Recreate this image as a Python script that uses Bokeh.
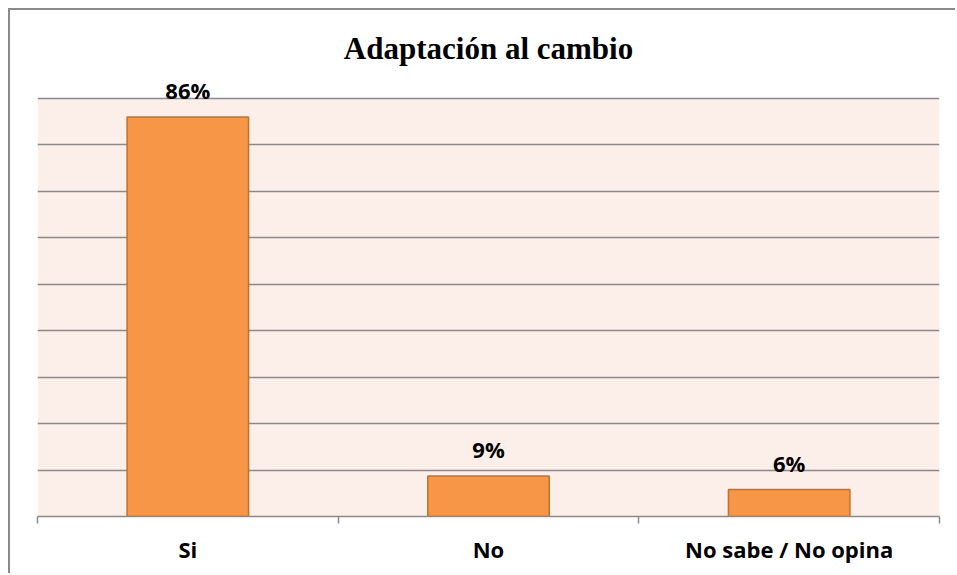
from bokeh.plotting import figure
from bokeh.models import ColumnDataSource, FixedTicker, Range1d, LabelSet
from bokeh.core.properties import value
from bokeh.embed import file_html
from bokeh.resources import INLINE

title = "Adaptación al cambio"
categories = ["Si", "No", "No sabe / No opina"]
values = [0.86, 0.087, 0.058]
labels = ["86%", "9%", "6%"]
grid_ticks = [0.0, 0.1, 0.2, 0.3, 0.4, 0.5, 0.6, 0.7, 0.8, 0.9]

n = len(categories)
xs = [i + 0.5 for i in range(n)]
src = ColumnDataSource(dict(x=xs, top=values, lab=labels))
ymax = grid_ticks[-1]

p = figure(width=947, height=565, output_backend="svg", toolbar_location=None,
           x_range=Range1d(0, n), y_range=Range1d(0, ymax + 0.0495),
           min_border_left=27, min_border_right=18, min_border_top=65, min_border_bottom=59,
           styles={"margin-left": "8px", "margin-top": "8px",
                   "border-left": "2px solid #8a8a8a", "border-top": "2px solid #8a8a8a"})
p.title.text = title
p.title.text_font = "Liberation Serif"
p.title.text_font_size = "31px"
p.title.text_font_style = "bold"
p.title.align = "center"
p.title.text_color = "#000000"
p.title.standoff = 19

p.background_fill_color = "#FFFFFF"
p.border_fill_color = "#FFFFFF"
p.outline_line_color = None

# plot-area background (pink) up to the top gridline
p.quad(left=[0], right=[n], bottom=[0], top=[ymax], fill_color="#FCEEE9",
       line_color=None, level="image")

p.vbar(x="x", top="top", width=0.404, bottom=0, source=src,
       fill_color="#F79646", line_color="#C0712F", line_width=1.5)

p.add_layout(LabelSet(x="x", y="top", text="lab", source=src, text_align="center",
                      text_baseline="alphabetic", y_offset=18,
                      text_font=value("Open Sans"), text_font_style="bold",
                      text_font_size="22px", text_color="#000000"))

p.yaxis.visible = False
p.xgrid.visible = False
p.ygrid.ticker = FixedTicker(ticks=grid_ticks)
p.ygrid.grid_line_color = "#8a8a8a"
p.ygrid.grid_line_width = 1.5

ax = p.xaxis[0]
ax.ticker = FixedTicker(ticks=xs, minor_ticks=list(range(n + 1)))
ax.major_label_overrides = {x: c for x, c in zip(xs, categories)}
ax.major_tick_out = 0
ax.major_tick_in = 0
ax.minor_tick_out = 7
ax.minor_tick_in = 0
ax.minor_tick_line_color = "#8a8a8a"
ax.minor_tick_line_width = 1.5
ax.axis_line_color = "#8a8a8a"
ax.axis_line_width = 1.5
ax.major_label_text_font = "Open Sans"
ax.major_label_text_font_style = "bold"
ax.major_label_text_font_size = "22px"
ax.major_label_text_color = "#000000"
ax.major_label_standoff = 10

open("out.html", "w").write(file_html(p, INLINE))
